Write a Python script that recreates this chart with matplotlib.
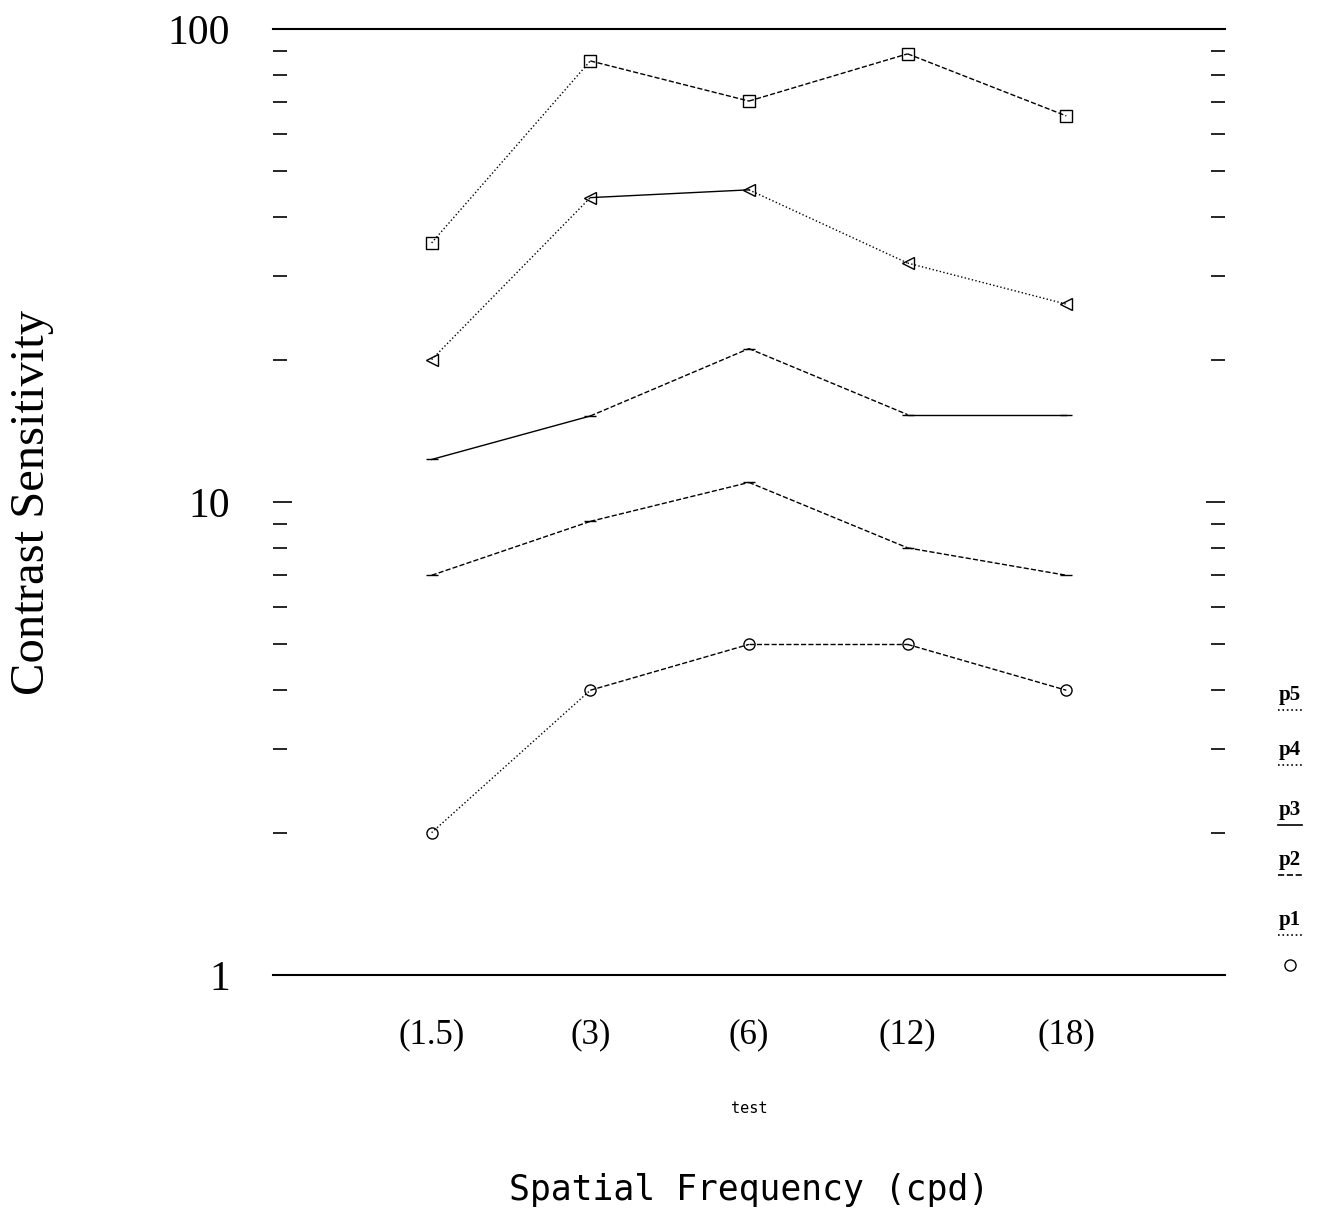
import matplotlib
matplotlib.use("Agg")
import matplotlib.pyplot as plt
from matplotlib.lines import Line2D
import numpy as np

categories = ["(1.5)", "(3)", "(6)", "(12)", "(18)"]
series_names = ["p1", "p2", "p3", "p4", "p5"]
p1 = [2.0, 4.0, 5.0, 5.0, 4.0]
p2 = [7.0, 9.1, 11.0, 8.0, 7.0]
p3 = [12.3, 15.2, 21.1, 15.3, 15.3]
p4 = [20.0, 44.0, 45.7, 32.0, 26.2]
p5 = [35.3, 85.6, 70.4, 88.6, 65.5]
values = [p1, p2, p3, p4, p5]

markers = ["o", "_", "_", "<", "s"]
# linestyle of each of the four segments per series
seg_styles = [
    [":", "--", "--", "--"],
    ["--", "--", "--", "--"],
    ["-", "--", "--", "-"],
    [":", "-", ":", ":"],
    [":", "--", "--", "--"],
]

plt.rcParams['font.family'] = ['Liberation Serif', 'DejaVu Serif']
fig = plt.figure(figsize=(13.18, 12.12), dpi=100)
ax = fig.add_axes([0.2071, 0.1955, 0.7223, 0.7806])

x = np.arange(1, len(categories) + 1)
for vals, mk, styles in zip(values, markers, seg_styles):
    for i in range(len(x) - 1):
        ax.plot(x[i:i + 2], vals[i:i + 2], linestyle=styles[i], color="black",
                lw=1.0)
    ax.plot(x, vals, linestyle="none", marker=mk, markersize=8,
            markerfacecolor="none", markeredgecolor="black", markeredgewidth=1.0)

ax.set_yscale("log")
ax.set_ylim(1, 100)
ax.set_xlim(0, 6)
ax.spines["left"].set_visible(False)
ax.spines["right"].set_visible(False)
ax.spines["top"].set_linewidth(1.5)
ax.spines["bottom"].set_linewidth(1.5)

ax.set_xticks(x)
ax.set_xticklabels(categories, fontsize=25)
ax.tick_params(axis="x", length=0, pad=31)
ax.set_yticks([1, 10, 100])
ax.set_yticklabels(["1", "10", "100"], fontsize=30)
ax.tick_params(axis="y", which="major", direction="in", length=14, width=1.2,
               left=True, right=True, pad=31)
ax.tick_params(axis="y", which="minor", direction="in", length=10, width=1.2,
               left=True, right=True, labelleft=False)
ax.yaxis.set_minor_formatter(matplotlib.ticker.NullFormatter())

ax.set_ylabel("Contrast Sensitivity", fontsize=35, va="center")
ax.yaxis.set_label_coords(-0.253, 0.50)
ax.text(0.5, -(1108 - 975) / 946, "test", transform=ax.transAxes,
        ha="center", va="center", fontsize=11, family="DejaVu Sans Mono")
ax.text(0.5, -(1190 - 975) / 946, "Spatial Frequency (cpd)",
        transform=ax.transAxes, ha="center", va="center", fontsize=25,
        family="DejaVu Sans Mono")

# legend on the right: label above a short sample
leg_y = [935, 875, 825, 765, 710]
for name, mk, ypix, styles in zip(series_names, markers, leg_y, seg_styles):
    yf = 1 - ypix / 1212
    fig.text(1290 / 1318, yf + 0.004, name, ha="center", va="bottom",
             fontsize=15, fontweight="bold")
    fig.add_artist(Line2D([1278 / 1318, 1302 / 1318], [yf, yf],
                          transform=fig.transFigure, color="black", lw=1.2,
                          linestyle=styles[0]))
fig.add_artist(Line2D([1290 / 1318], [1 - 965 / 1212], transform=fig.transFigure,
                      marker="o", markersize=8, markerfacecolor="none",
                      markeredgecolor="black", linestyle="none"))

fig.savefig("out.png", dpi=100)
